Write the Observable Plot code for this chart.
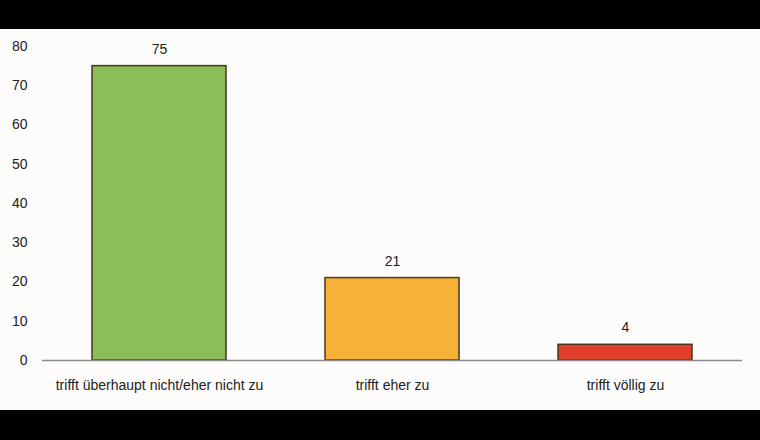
<!DOCTYPE html>
<html><head><meta charset="utf-8">
<script src="https://cdn.jsdelivr.net/npm/d3@7"></script>
<script src="https://cdn.jsdelivr.net/npm/@observablehq/plot@0.6"></script>
<style>
html,body{margin:0;padding:0;background:#000;width:760px;height:440px;overflow:hidden}
#top{height:29px;background:#000}
#chart{background:#fdfcfa;height:381px}
#chart svg{display:block}
</style></head><body>
<div id="top"></div><div id="chart"></div>
<script>
const categories = ["trifft überhaupt nicht/eher nicht zu", "trifft eher zu", "trifft völlig zu"];
const values = [75, 21, 4];
const colors = ["#8bbd58", "#f5b236", "#e2402c"];
const yTicks = [0, 10, 20, 30, 40, 50, 60, 70, 80];

const data = categories.map((c, i) => ({category: c, value: values[i], color: colors[i]}));

const chart = Plot.plot({
  width: 760,
  height: 381,
  marginTop: 17,
  marginBottom: 50,
  marginLeft: 42,
  marginRight: 18,
  style: {background: "#fdfcfa", fontFamily: "Liberation Sans, Arial, sans-serif", fontSize: "14px", color: "#222"},
  x: {domain: categories, paddingInner: 0.426, paddingOuter: 0.213, label: null},
  y: {domain: [0, 80], label: null},
  marks: [
    Plot.barY(data, {x: "category", y: "value", fill: "color", stroke: "#4a3422", strokeWidth: 1.5}),
    Plot.text(data, {x: "category", y: "value", text: d => String(d.value), dy: -17, fontSize: 14, fill: "#222"}),
    Plot.axisY({ticks: yTicks, tickSize: 0, tickPadding: 15, fontSize: 14, fill: "#222"}),
    Plot.axisX({tickSize: 0, tickPadding: 20, fontSize: 14, fill: "#222"}),
    Plot.ruleX([0], {frameAnchor: "left", stroke: "#8a8a8a", strokeWidth: 1.5}),
    Plot.ruleY([0], {stroke: "#8a8a8a", strokeWidth: 1.5})
  ]
});
document.getElementById("chart").appendChild(chart);
</script>
</body></html>
